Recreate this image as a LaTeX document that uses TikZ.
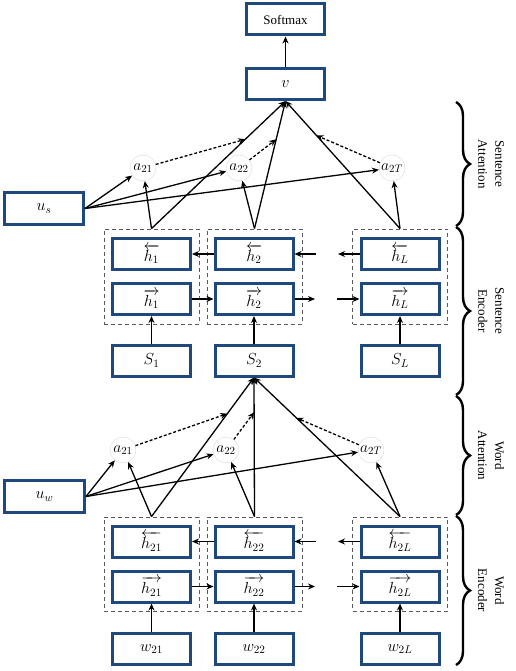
\RequirePackage{fix-cm}
\documentclass[tikz,border=0pt]{standalone}
\usepackage{amsmath}
\usepackage{fontspec}
\setmainfont{Liberation Serif}
\usetikzlibrary{calc}
\usetikzlibrary{arrows, arrows.meta}
\usetikzlibrary{decorations.pathreplacing}
\definecolor{boxblue}{RGB}{31,73,125}

\begin{document}
\begin{tikzpicture}[x=1pt,y=-1pt,
	font=\fontsize{13}{17}\selectfont,
	blk/.style={draw=boxblue,line width=3pt,fill=white,minimum width=78pt,minimum height=31pt,inner sep=0pt,font=\fontsize{16}{18}\selectfont},
	att/.style={circle,draw=gray!30,fill=white,minimum size=26pt,inner sep=0pt,font=\fontsize{15.5}{18}\selectfont},
	grp/.style={draw=gray!70!black,dash pattern=on 4pt off 3pt,line width=0.9pt,minimum width=95pt,minimum height=95pt,inner sep=0pt},
	conn/.style={line width=1.3pt,-{Stealth[length=7pt,width=6pt]}},
	dotconn/.style={conn,dash pattern=on 3pt off 2pt},
	brc/.style={decorate,decoration={brace,amplitude=14pt},line width=2.4pt},
	lab/.style={rotate=-90,align=center}]
	\useasboundingbox (0,0) rectangle (515,671);
	
	%OUTPUT
	\node[blk,font=\fontsize{13}{16}\selectfont] (softmax) at (285.5,19.5) {Softmax};
	\node[blk] (v) at (285.5,84) {$v$};
	\draw[conn] (v) -- (softmax);
	
	%SENTENCE ENCODER
	\node[grp] (sb1) at (151.5,276.5) {};
	\node[grp] (sb2) at (254.5,276.5) {};
	\node[grp] (sb3) at (400,276.5) {};
	\node[blk] (sbh1) at (151.5,254) {$\overleftarrow{h_1}$};
	\node[blk] (sbh2) at (254,254) {$\overleftarrow{h_2}$};
	\node[blk] (sbhL) at (400,254) {$\overleftarrow{h_L}$};
	\node[blk] (sfh1) at (151.5,299) {$\overrightarrow{h_1}$};
	\node[blk] (sfh2) at (254,299) {$\overrightarrow{h_2}$};
	\node[blk] (sfhL) at (400,299) {$\overrightarrow{h_L}$};
	\node[blk] (s1) at (151.5,360.5) {$S_1$};
	\node[blk] (s2) at (254,360.5) {$S_2$};
	\node[blk] (sL) at (400,360.5) {$S_L$};
	\draw[conn] (s1) -- (sfh1);
	\draw[conn] (s2) -- (sfh2);
	\draw[conn] (sL) -- (sfhL);
	\draw[conn] (sfh1) -- (sfh2);
	\coordinate (sfe) at (315,299);
	\coordinate (sfs) at (337,299);
	\draw[conn] (sfh2) -- (sfe);
	\draw[conn] (sfs) -- (sfhL);
	\draw[conn] (sbh2) -- (sbh1);
	\coordinate (sbe) at (316,254);
	\coordinate (sbs) at (338,254);
	\draw[conn] (sbe) -- (sbh2);
	\draw[conn] (sbhL) -- (sbs);
	
	%SENTENCE ATTENTION
	\node[blk,minimum width=79pt,minimum height=32pt] (us) at (44,208.5) {$u_s$};
	\node[att] (sa1) at (143,168) {$a_{21}$};
	\node[att] (sa2) at (239,168) {$a_{22}$};
	\node[att] (saT) at (392,168) {$a_{2T}$};
	\draw[conn] (sb1.north) -- (v.south);
	\draw[conn] (sb2.north) -- (v.south);
	\draw[conn] (sb3.north) -- (v.south);
	\draw[conn] (sb1.north) -- (sa1);
	\draw[conn] (sb2.north) -- (sa2);
	\draw[conn] (sb3.north) -- (saT);
	\draw[conn] (us.east) -- (sa1);
	\draw[conn] (us.east) -- (sa2);
	\draw[conn] (us.east) -- (saT);
	\coordinate (sp1) at ($(sb1.north)!0.7!(v.south)$);
	\coordinate (sp2) at ($(sb2.north)!0.7!(v.south)$);
	\coordinate (spT) at ($(sb3.north)!0.73!(v.south)$);
	\draw[dotconn] (sa1) -- (sp1);
	\draw[dotconn] (sa2) -- (sp2);
	\draw[dotconn] (saT) -- (spT);
	
	%WORD ENCODER
	\node[grp,minimum height=94pt] (wb1) at (151.5,564) {};
	\node[grp,minimum height=94pt] (wb2) at (254.5,564) {};
	\node[grp,minimum height=94pt] (wb3) at (400,564) {};
	\node[blk] (wbh1) at (151.5,541.5) {$\overleftarrow{h_{21}}$};
	\node[blk] (wbh2) at (254,541.5) {$\overleftarrow{h_{22}}$};
	\node[blk] (wbhL) at (400,541.5) {$\overleftarrow{h_{2L}}$};
	\node[blk] (wfh1) at (151.5,586.5) {$\overrightarrow{h_{21}}$};
	\node[blk] (wfh2) at (254,586.5) {$\overrightarrow{h_{22}}$};
	\node[blk] (wfhL) at (400,586.5) {$\overrightarrow{h_{2L}}$};
	\node[blk] (w1) at (151.5,649) {$w_{21}$};
	\node[blk] (w2) at (254,649) {$w_{22}$};
	\node[blk] (wL) at (400,649) {$w_{2L}$};
	\draw[conn] (w1) -- (wfh1);
	\draw[conn] (w2) -- (wfh2);
	\draw[conn] (wL) -- (wfhL);
	\draw[conn] (wfh1) -- (wfh2);
	\coordinate (wfe) at (315,586.5);
	\coordinate (wfs) at (337,586.5);
	\draw[conn] (wfh2) -- (wfe);
	\draw[conn] (wfs) -- (wfhL);
	\draw[conn] (wbh2) -- (wbh1);
	\coordinate (wbe) at (316,541.5);
	\coordinate (wbs) at (338,541.5);
	\draw[conn] (wbe) -- (wbh2);
	\draw[conn] (wbhL) -- (wbs);
	
	%WORD ATTENTION
	\node[blk,minimum width=80pt,minimum height=32pt] (uw) at (44.5,496.5) {$u_w$};
	\node[att] (wa1) at (123,450) {$a_{21}$};
	\node[att] (wa2) at (226,450) {$a_{22}$};
	\node[att] (waT) at (371,450) {$a_{2T}$};
	\draw[conn] (wb1.north) -- (s2.south);
	\draw[conn] (wb2.north) -- (s2.south);
	\draw[conn] (wb3.north) -- (s2.south);
	\draw[conn] (wb1.north) -- (wa1);
	\draw[conn] (wb2.north) -- (wa2);
	\draw[conn] (wb3.north) -- (waT);
	\draw[conn] (uw.east) -- (wa1);
	\draw[conn] (uw.east) -- (wa2);
	\draw[conn] (uw.east) -- (waT);
	\coordinate (wp1) at ($(wb1.north)!0.74!(s2.south)$);
	\coordinate (wp2) at ($(wb2.north)!0.75!(s2.south)$);
	\coordinate (wpT) at ($(wb3.north)!0.71!(s2.south)$);
	\draw[dotconn] (wa1) -- (wp1);
	\draw[dotconn] (wa2) -- (wp2);
	\draw[dotconn] (waT) -- (wpT);
	
	%BRACES
	\draw[brc] (456,102) -- (456,226);
	\draw[brc] (456,227) -- (456,395);
	\draw[brc] (456,396) -- (456,515);
	\draw[brc] (456,516) -- (456,665);
	\node[lab] (lsa) at (491,164) {Sentence\\Attention};
	\node[lab] (lse) at (491,311) {Sentence\\Encoder};
	\node[lab] (lwa) at (491,455.5) {Word\\Attention};
	\node[lab] (lwe) at (491,590.5) {Word\\Encoder};
\end{tikzpicture}
\end{document}
